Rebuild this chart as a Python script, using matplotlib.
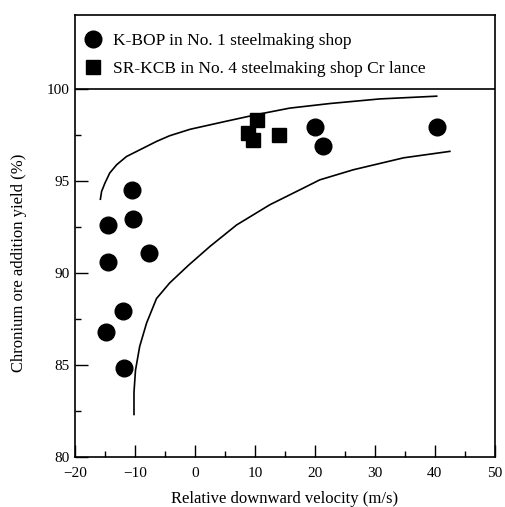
"""Chromium ore addition yield vs relative downward velocity."""
import matplotlib
matplotlib.use("Agg")
import matplotlib.pyplot as plt
from matplotlib.ticker import FixedLocator

# K-BOP in No. 1 steelmaking shop (circles)
kbop_x = [-14.5, -10.3, -14.5, -7.7, -12.0, -14.8, -11.8, -10.5, 20.0, 21.3, 40.3]
kbop_y = [92.6, 92.9, 90.6, 91.1, 87.9, 86.8, 84.8, 94.5, 97.9, 96.9, 97.9]

# SR-KCB in No. 4 steelmaking shop, Cr lance (squares)
srkcb_x = [10.3, 8.9, 9.7, 14.0]
srkcb_y = [98.3, 97.6, 97.2, 97.5]

# upper / lower envelope curves
upper_x = [-15.75, -15.55, -15.0, -14.2, -13.05, -11.4, -9.2, -6.4, -4.2,
           -0.8, 4.7, 10.3, 15.8, 22.5, 30.8, 40.3]
upper_y = [94.0, 94.42, 94.87, 95.42, 95.87, 96.32, 96.68, 97.14, 97.45,
           97.8, 98.2, 98.6, 98.95, 99.2, 99.45, 99.6]
lower_x = [-10.15, -10.15, -9.9, -9.2, -8.05, -6.4, -4.2, -1.1, 2.5, 6.95,
           12.5, 18.05, 20.8, 26.4, 34.8, 42.5]
lower_y = [82.3, 83.5, 84.7, 86.0, 87.27, 88.6, 89.45, 90.4, 91.43, 92.6,
           93.7, 94.6, 95.05, 95.6, 96.25, 96.6]

plt.rcParams["font.family"] = ["Liberation Serif", "DejaVu Serif"]

fig = plt.figure(figsize=(5.06, 5.07), dpi=100)
ax = fig.add_axes([0.148, 0.099, 0.830, 0.871])

ax.plot(upper_x, upper_y, color="black", lw=1.2, solid_joinstyle="round")
ax.plot(lower_x, lower_y, color="black", lw=1.2, solid_joinstyle="round")
ax.plot(kbop_x, kbop_y, "o", color="black", ms=12,
        label="K-BOP in No. 1 steelmaking shop")
ax.plot(srkcb_x, srkcb_y, "s", color="black", ms=10.5,
        label="SR-KCB in No. 4 steelmaking shop Cr lance")

# legend box sits above the 100 % line
ax.axhline(100, color="black", lw=1.2)
ax.legend(loc="upper left", bbox_to_anchor=(0.005, 0.975), frameon=False,
          fontsize=12.5, handletextpad=0.66, labelspacing=0.68,
          borderaxespad=0.0, handlelength=1.0)

ax.set_xlim(-20, 50)
ax.set_ylim(80, 104)
ax.set_xticks(range(-20, 51, 10))
ax.set_xticklabels(["\u221220", "\u221210", "0", "10", "20", "30", "40", "50"])
ax.set_yticks([80, 85, 90, 95, 100])
ax.xaxis.set_minor_locator(FixedLocator([-15, -5, 5, 15, 25, 35, 45]))
ax.yaxis.set_minor_locator(FixedLocator([82.5, 87.5, 92.5, 97.5]))
ax.tick_params(which="major", direction="in", length=9, width=1.0, labelsize=11)
ax.tick_params(which="minor", direction="in", length=4, width=1.0)
ax.tick_params(axis="x", pad=7)
for s in ax.spines.values():
    s.set_linewidth(1.2)

ax.set_xlabel("Relative downward velocity (m/s)", fontsize=12, labelpad=8)
ax.set_ylabel("Chronium ore addition yield (%)", fontsize=12, labelpad=4)
ax.yaxis.set_label_coords(-0.115, 0.44)

fig.savefig("out.png", dpi=100)
